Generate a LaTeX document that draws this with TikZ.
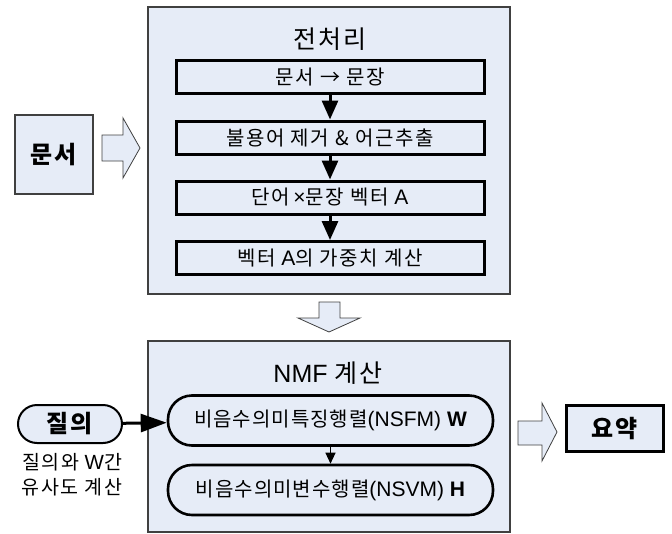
\documentclass[tikz,border=0pt]{standalone}
\usepackage{fontspec}
\setmainfont{Liberation Sans}
\newfontfamily\kr[LetterSpace=8]{Noto Sans CJK KR}
\newfontfamily\krn[LetterSpace=5]{Noto Sans CJK KR}
\usetikzlibrary{arrows.meta}
\definecolor{fillblue}{HTML}{E6ECF7}
\definecolor{frame}{HTML}{404040}
\newcommand{\krs}[1]{{\fontsize{20}{22}\selectfont\kr #1}}
\newcommand{\krm}[1]{{\fontsize{20}{22}\selectfont\krn #1}}
\newcommand{\krc}[1]{{\fontsize{19.5}{25}\selectfont\kr #1}}
\tikzset{
  container/.style={draw=frame, line width=1.2pt, fill=fillblue},
  stepbox/.style={draw=black, line width=3pt, fill=fillblue, minimum width=308pt, minimum height=33pt, inner sep=0pt, font=\fontsize{21}{22}\selectfont},
  roundbox/.style={draw=black, line width=2.6pt, fill=fillblue, rounded corners=24pt, minimum width=325pt, minimum height=50pt, inner sep=0pt, font=\fontsize{21}{24}\selectfont},
  labelbox/.style={draw=frame, line width=1.5pt, fill=fillblue, inner sep=0pt, font=\fontsize{24}{28}\selectfont\bfseries},
  bigarrow/.style={draw=frame, line width=0.8pt, fill=fillblue, line join=miter},
  flow/.style={line width=3pt, -{Triangle[width=16pt,length=19pt]}},
  smallflow/.style={line width=1.2pt, -{Triangle[width=10pt,length=11pt]}},
  title/.style={font=\fontsize{25}{28}\selectfont, inner sep=0pt}
}
\begin{document}
\begin{tikzpicture}[x=1pt,y=-1pt]
\useasboundingbox (0,0) rectangle (672,533);
% containers
\draw[container] (148,7) rectangle (510,294);
\draw[container] (148,341) rectangle (510,532);
\node[title] (t1) at (330,39) {\kr 전처리};
\node[title] (t2) at (328,373) {NMF {\kr 계산}};
% step boxes
\node[stepbox] (b1) at (330,77) {\krs{문서 → 문장}};
\node[stepbox] (b2) at (330,137.5) {\krs{불용어 제거 \& 어근추출}};
\node[stepbox] (b3) at (330,197.5) {\krs{단어}\,×\krs{문장 벡터} A};
\node[stepbox] (b4) at (330,258) {\krs{벡터} A\krs{의 가중치 계산}};
\draw[flow] (b1) -- (b2);
\draw[flow] (b2) -- (b3);
\draw[flow] (b3) -- (b4);
% input doc
\node[labelbox, minimum width=78pt, minimum height=79pt] (doc) at (54,154.5) {\kr\bfseries 문서};
\draw[bigarrow] (102,135) -- (123,135) -- (123,118) -- (140,148) -- (123,178) -- (123,161) -- (102,161) -- cycle;
% down arrow
\draw[bigarrow] (319,302) -- (340,302) -- (340,318) -- (360,318) -- (329,332) -- (298,318) -- (319,318) -- cycle;
% NMF boxes
\node[roundbox] (w) at (330.5,420.5) {\krm{비음수의미특징행렬}(NSFM) \textbf{W}};
\node[roundbox] (h) at (330.5,490) {\krm{비음수의미변수행렬}(NSVM) \textbf{H}};
\draw[smallflow] (w) -- (h);
% query
\node[draw=black, line width=2pt, fill=fillblue, rounded corners=19pt, minimum width=104pt, minimum height=38pt, inner sep=0pt, font=\fontsize{24}{28}\selectfont] (q) at (70,424) {\kr\bfseries 질의};
\draw[line width=3pt, -{Triangle[width=18pt,length=26pt]}] (q) -- (w);
\node[align=center, inner sep=0pt, font=\fontsize{20.5}{25}\selectfont] (cap) at (72,475) {\krc{질의와} W\krc{간}\\\krc{유사도 계산}};
% output
\draw[bigarrow] (518,421) -- (542,421) -- (542,403) -- (557,432) -- (542,461) -- (542,445) -- (518,445) -- cycle;
\node[draw=black, line width=3pt, fill=fillblue, minimum width=97pt, minimum height=46pt, inner sep=0pt, font=\fontsize{24}{28}\selectfont] (sum) at (614.5,428.5) {\kr\bfseries 요약};
\end{tikzpicture}
\end{document}
